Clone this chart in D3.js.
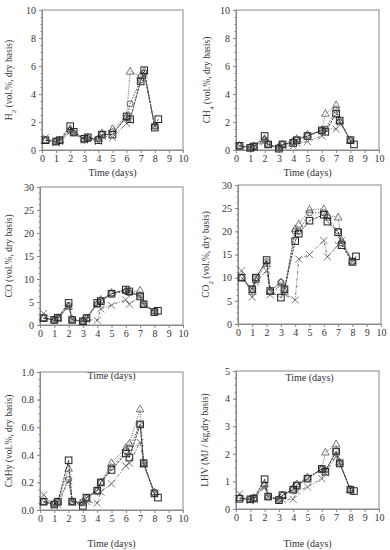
<!DOCTYPE html>
<html>
<head>
<meta charset="utf-8">
<script src="https://d3js.org/d3.v7.min.js"></script>
<style>
  body { margin: 0; background: #fff; }
  text { font-family: "Liberation Serif", "DejaVu Serif", serif; fill: #333; }
  .frame { fill: none; stroke: #888; stroke-width: 1px; }
  .tick line { stroke: #888; }
  .domain { stroke: #888; }
</style>
</head>
<body>
<svg id="chart" width="390" height="550"></svg>
<script>
// sampling times (days)
const times = [0.25, 1, 1.25, 2, 2.25, 3, 3.25, 4, 4.25, 5, 6, 6.25, 7, 7.25, 8];
const timesSq = [0.25, 1, 1.25, 2, 2.25, 3, 3.25, 4, 4.25, 5, 6, 6.25, 7, 7.25, 8, 8.25];

// H2
const h2Tri = [0.7, 0.6, 0.7, 1.5, 1.2, 0.8, 0.9, 0.8, 1.2, 1.5, 2.4, 5.6, 5.3, 5.6, 1.7];
const h2Cir = [0.7, 0.6, 0.7, 1.4, 1.2, 0.7, 0.8, 0.8, 1.1, 1.3, 2.3, 3.3, 5.0, 5.5, 1.7];
const h2Sq  = [0.7, 0.6, 0.7, 1.7, 1.3, 0.8, 0.9, 0.7, 1.1, 1.1, 2.4, 2.2, 4.9, 5.7, 1.6, 2.2];
const h2X   = [0.9, 0.5, 0.6, 1.3, 1.2, 0.7, 0.8, 0.6, 1.0, 0.9, 1.9, 2.1, 5.1, 5.4, 1.7];
// CH4
const ch4Tri = [0.3, 0.2, 0.25, 0.8, 0.4, 0.2, 0.4, 0.6, 0.8, 1.1, 1.4, 2.6, 3.2, 2.1, 0.7];
const ch4Cir = [0.3, 0.2, 0.3, 0.7, 0.4, 0.2, 0.4, 0.6, 0.7, 1.0, 1.4, 1.5, 2.9, 2.0, 0.7];
const ch4Sq  = [0.3, 0.15, 0.25, 1.0, 0.4, 0.1, 0.4, 0.5, 0.7, 1.0, 1.4, 1.3, 2.6, 2.1, 0.7, 0.4];
const ch4X   = [0.3, 0.1, 0.2, 0.6, 0.4, 0.1, 0.3, 0.3, 0.5, 0.6, 1.0, 1.5, 1.5, 2.0, 0.7];
// CO
const coTri = [1.5, 1.2, 1.5, 4.0, 1.2, 0.8, 1.5, 4.5, 5.5, 7.0, 7.5, 7.2, 7.5, 4.5, 3.0];
const coCir = [1.5, 1.0, 1.5, 4.3, 1.2, 0.8, 1.4, 4.5, 5.2, 6.8, 7.3, 7.0, 6.5, 4.5, 3.0];
const coSq  = [1.5, 1.1, 1.6, 4.8, 1.1, 0.8, 1.5, 4.8, 5.2, 6.8, 7.7, 7.3, 6.2, 4.5, 2.8, 3.1];
const coX   = [2.5, 1.2, 1.4, 4.0, 1.2, 0.8, 1.2, 1.0, 3.5, 4.3, 5.5, 4.5, 6.3, 4.5, 3.0];
// CO2
const co2Tri = [10, 7, 9.5, 13, 7.2, 9, 7, 20.5, 21.5, 24.7, 24.8, 23.5, 23, 18, 13.5];
const co2Cir = [10, 7.5, 10, 13.5, 7, 9, 7.5, 20, 20, 24, 24, 23, 20, 17.5, 13.5];
const co2Sq  = [10, 7.5, 10, 13.8, 7.1, 5.7, 7.5, 17.9, 19.5, 22.3, 23.6, 22.1, 19.8, 17.0, 13.4, 14.6];
const co2X   = [11.5, 5.8, 9.0, 11.5, 6.3, 8.5, 6.5, 5.2, 14, 15, 18, 14.5, 17.0, 18, 13.5];
// CxHy
const cxTri = [0.06, 0.05, 0.06, 0.30, 0.06, 0.05, 0.08, 0.14, 0.20, 0.34, 0.45, 0.48, 0.73, 0.33, 0.13];
const cxCir = [0.06, 0.04, 0.06, 0.22, 0.06, 0.06, 0.09, 0.14, 0.20, 0.31, 0.43, 0.45, 0.62, 0.34, 0.12];
const cxSq  = [0.06, 0.04, 0.06, 0.36, 0.06, 0.03, 0.09, 0.14, 0.20, 0.29, 0.41, 0.38, 0.62, 0.34, 0.12, 0.09];
const cxX   = [0.11, 0.03, 0.04, 0.21, 0.06, 0.05, 0.06, 0.05, 0.13, 0.19, 0.32, 0.34, 0.49, 0.33, 0.12];
// LHV
const lhvTri = [0.4, 0.35, 0.4, 0.9, 0.45, 0.35, 0.5, 0.75, 0.9, 1.15, 1.45, 2.05, 2.35, 1.7, 0.7];
const lhvCir = [0.4, 0.35, 0.4, 0.85, 0.45, 0.35, 0.5, 0.7, 0.85, 1.1, 1.45, 1.4, 2.1, 1.65, 0.7];
const lhvSq  = [0.37, 0.35, 0.38, 1.08, 0.45, 0.32, 0.5, 0.7, 0.85, 1.1, 1.45, 1.35, 2.08, 1.65, 0.7, 0.65];
const lhvX   = [0.55, 0.3, 0.35, 0.8, 0.45, 0.35, 0.35, 0.35, 0.65, 0.8, 1.1, 1.3, 1.9, 1.7, 0.7];

const xTicks = [0, 1, 2, 3, 4, 5, 6, 7, 8, 9, 10];

const panels = [
  {x0: 42, x1: 183, y0: 10, y1: 150, ymax: 10, step: 2, fmt: d3.format("d"),
   label: [["H"], ["2", "sub"], [" (vol.%, dry basis)"]], lx: 12, ty: 176,
   data: [h2Tri, h2Cir, h2Sq, h2X]},
  {x0: 236, x1: 379, y0: 10, y1: 150, ymax: 10, step: 2, fmt: d3.format("d"),
   label: [["CH"], ["4", "sub"], [" (vol.%, dry basis)"]], lx: 210, ty: 176,
   data: [ch4Tri, ch4Cir, ch4Sq, ch4X]},
  {x0: 40, x1: 183, y0: 187, y1: 325, ymax: 30, step: 5, fmt: d3.format("d"),
   label: [["CO (vol.%, dry basis)"]], lx: 12, ty: 379,
   data: [coTri, coCir, coSq, coX]},
  {x0: 238, x1: 381, y0: 185, y1: 324, ymax: 30, step: 5, fmt: d3.format("d"),
   label: [["CO"], ["2", "sub"], [" (vol.%, dry basis)"]], lx: 209, ty: 381,
   data: [co2Tri, co2Cir, co2Sq, co2X]},
  {x0: 40, x1: 183, y0: 372, y1: 510, ymax: 1, step: 0.2, fmt: d3.format(".1f"),
   label: [["CxHy (vol.%, dry basis)"]], lx: 12, ty: 547,
   data: [cxTri, cxCir, cxSq, cxX]},
  {x0: 236, x1: 379, y0: 371, y1: 509, ymax: 5, step: 1, fmt: d3.format("d"),
   label: [["LHV (MJ / kg,dry basis)"]], lx: 208, ty: 547,
   data: [lhvTri, lhvCir, lhvSq, lhvX]}
];

// series styles: triangle, circle, square, cross
const styles = [
  {shape: "tri", dash: "1,1.2", color: "#555"},
  {shape: "cir", dash: "1.5,1.5", color: "#444"},
  {shape: "sq",  dash: "2.5,1", color: "#222"},
  {shape: "x",   dash: "3,1.5,1,1.5", color: "#666"}
];

const svg = d3.select("#chart");

function marker(g, shape, px, py) {
  if (shape === "tri") {
    g.append("path").attr("d", `M${px},${py-4.2}L${px+3.8},${py+2.6}L${px-3.8},${py+2.6}Z`)
      .attr("fill", "#fff").attr("fill-opacity", 0.3).attr("stroke", "#555").attr("stroke-width", 0.8);
  } else if (shape === "cir") {
    g.append("circle").attr("cx", px).attr("cy", py).attr("r", 3)
      .attr("fill", "none").attr("stroke", "#444").attr("stroke-width", 0.8);
  } else if (shape === "sq") {
    g.append("rect").attr("x", px - 3.3).attr("y", py - 3.3).attr("width", 6.6).attr("height", 6.6)
      .attr("fill", "none").attr("stroke", "#222").attr("stroke-width", 1);
  } else {
    g.append("path").attr("d", `M${px-3.5},${py-3.5}L${px+3.5},${py+3.5}M${px-3.5},${py+3.5}L${px+3.5},${py-3.5}`)
      .attr("stroke", "#555").attr("stroke-width", 0.8);
  }
}

panels.forEach(p => {
  const x = d3.scaleLinear().domain([0, 10]).range([p.x0, p.x1]);
  const y = d3.scaleLinear().domain([0, p.ymax]).range([p.y1, p.y0]);
  const g = svg.append("g");

  // frame
  g.append("rect").attr("class", "frame")
    .attr("x", p.x0).attr("y", p.y0).attr("width", p.x1 - p.x0).attr("height", p.y1 - p.y0);

  // axes
  const yTicks = d3.range(0, p.ymax + p.step / 2, p.step);
  const yMinor = d3.range(0, p.ymax + 1e-9, p.step / 4);
  const ax = g.append("g").attr("transform", `translate(0,${p.y1})`)
    .call(d3.axisBottom(x).tickValues(xTicks).tickSize(3).tickPadding(2).tickFormat(d3.format("d")));
  const ay = g.append("g").attr("transform", `translate(${p.x0},0)`)
    .call(d3.axisLeft(y).tickValues(yTicks).tickSize(3).tickPadding(3).tickFormat(p.fmt));
  g.append("g").attr("transform", `translate(${p.x0},0)`)
    .call(d3.axisLeft(y).tickValues(yMinor).tickSize(1.5).tickFormat(""))
    .select(".domain").remove();
  [ax, ay].forEach(a => a.selectAll("text").style("font-size", "10px").attr("fill", "#333"));
  g.selectAll(".domain").attr("stroke", "#888");
  g.selectAll(".tick line").attr("stroke", "#888");

  // axis titles
  g.append("text").attr("x", (p.x0 + p.x1) / 2).attr("y", p.ty)
    .attr("text-anchor", "middle").style("font-size", "10px").text("Time (days)");
  const yl = g.append("text")
    .attr("transform", `translate(${p.lx},${(p.y0 + p.y1) / 2}) rotate(-90)`)
    .attr("text-anchor", "middle").style("font-size", "9.5px");
  p.label.forEach(part => {
    const t = yl.append("tspan").text(part[0]);
    if (part[1] === "sub") t.attr("baseline-shift", "sub").style("font-size", "7px");
  });

  // series
  p.data.forEach((vals, i) => {
    const st = styles[i];
    const ts = vals.length === timesSq.length ? timesSq : times;
    const pts = vals.map((v, k) => [ts[k], v]);
    const line = d3.line().x(d => x(d[0])).y(d => y(d[1]));
    g.append("path").datum(pts).attr("d", line)
      .attr("fill", "none").attr("stroke", st.color).attr("stroke-width", 0.9)
      .attr("stroke-dasharray", st.dash);
    const mg = g.append("g");
    pts.forEach(d => marker(mg, st.shape, x(d[0]), y(d[1])));
  });
});
</script>
</body>
</html>
